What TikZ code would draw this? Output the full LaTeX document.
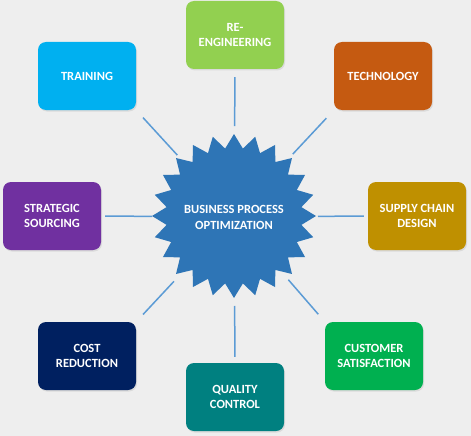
\documentclass[tikz,border=0pt]{standalone}
\usepackage{fontspec}
\setmainfont{Carlito}
\usetikzlibrary{shadows}
\definecolor{bg}{HTML}{EEEEEE}
\definecolor{starblue}{HTML}{2E75B6}
\definecolor{linkblue}{HTML}{5B9BD5}
\definecolor{cTrain}{HTML}{00B0F0}
\definecolor{cRe}{HTML}{92D050}
\definecolor{cTech}{HTML}{C55A11}
\definecolor{cStrat}{HTML}{7030A0}
\definecolor{cSupply}{HTML}{BF9000}
\definecolor{cCost}{HTML}{002060}
\definecolor{cQual}{HTML}{008080}
\definecolor{cCust}{HTML}{00B050}
\begin{document}
\begin{tikzpicture}[x=1pt,y=-1pt,
  box/.style={rounded corners=8pt, minimum width=98pt, minimum height=68pt,
    text=white, font=\bfseries\fontsize{12.5}{15}\selectfont, align=center,
    inner sep=0pt, drop shadow={opacity=0.18, shadow xshift=1pt, shadow yshift=-1.5pt}},
  link/.style={draw=linkblue, line width=1.5pt},
  centertext/.style={text=white, font=\bfseries\fontsize{12.5}{16}\selectfont, align=center, inner sep=0pt}]
\fill[bg] (0,0) rectangle (471,436);
\useasboundingbox (0,0) rectangle (471,436);

\fill[starblue, shift={(234,216)}] plot[domain=0:47, samples=48, variable=\k]
  ({90+7.5*\k}:{82-14*mod(round(\k),2)}) -- cycle;
\node[centertext] (c) at (234,217) {BUSINESS PROCESS\\OPTIMIZATION};

\node[box, fill=cRe] (re) at (235,35) {RE-\\ENGINEERING};
\node[box, fill=cTrain] (tr) at (87,76) {TRAINING};
\node[box, fill=cTech] (te) at (383,76) {TECHNOLOGY};
\node[box, fill=cStrat] (st) at (52,216) {STRATEGIC\\SOURCING};
\node[box, fill=cSupply] (su) at (417,216) {SUPPLY CHAIN\\DESIGN};
\node[box, fill=cCost] (co) at (87,356) {COST\\REDUCTION};
\node[box, fill=cQual] (qu) at (235,397) {QUALITY\\CONTROL};
\node[box, fill=cCust] (cu) at (374,356) {CUSTOMER\\SATISFACTION};

\draw[link, shorten <=8pt, shorten >=91pt] (re.south) -- (c.center);
\draw[link, shorten <=10pt, shorten >=84pt] (tr.south east) -- (c.center);
\draw[link, shorten <=11pt, shorten >=86pt] (te.south west) -- (c.center);
\draw[link, shorten <=4pt, shorten >=82pt] (st.east) -- (c.center);
\draw[link, shorten <=4pt, shorten >=84pt] (su.west) -- (c.center);
\draw[link, shorten <=10pt, shorten >=88pt] (co.north east) -- (c.center);
\draw[link, shorten <=10pt, shorten >=83pt] (cu.north west) -- (c.center);
\draw[link, shorten <=6pt, shorten >=89pt] (qu.north) -- (c.center);
\end{tikzpicture}
\end{document}
